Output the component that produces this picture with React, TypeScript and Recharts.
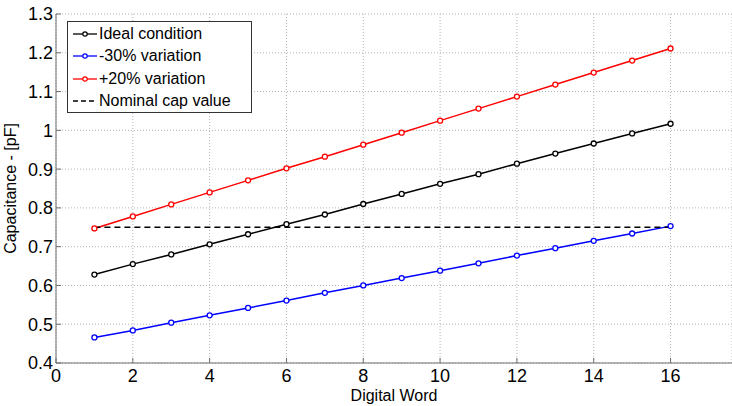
import React from 'react';
import { LineChart, Line, XAxis, YAxis, CartesianGrid, Legend, Label } from 'recharts';

const digitalWord = [1, 2, 3, 4, 5, 6, 7, 8, 9, 10, 11, 12, 13, 14, 15, 16];
const idealCap = [0.628, 0.655, 0.68, 0.706, 0.732, 0.758, 0.783, 0.81, 0.836, 0.862, 0.887, 0.914, 0.94, 0.966, 0.992, 1.017];
const minus30Cap = [0.466, 0.484, 0.504, 0.523, 0.542, 0.561, 0.581, 0.6, 0.619, 0.638, 0.657, 0.677, 0.696, 0.715, 0.734, 0.753];
const plus20Cap = [0.747, 0.778, 0.809, 0.84, 0.871, 0.902, 0.932, 0.963, 0.994, 1.025, 1.056, 1.087, 1.118, 1.149, 1.18, 1.211];
const nominalCap = [0.75, 0.75, 0.75, 0.75, 0.75, 0.75, 0.75, 0.75, 0.75, 0.75, 0.75, 0.75, 0.75, 0.75, 0.75, 0.75];

const xTicks = [0, 2, 4, 6, 8, 10, 12, 14, 16];
const yTicks = [0.4, 0.5, 0.6, 0.7, 0.8, 0.9, 1, 1.1, 1.2, 1.3];

const seriesNames = ['Ideal condition', '-30% variation', '+20% variation', 'Nominal cap value'];
const seriesKeys = ['ideal', 'minus30', 'plus20', 'nominal'];
const seriesColors = ['#000000', '#0000ff', '#ff0000', '#000000'];

const data = digitalWord.map((x, i) => ({
  x,
  ideal: idealCap[i],
  minus30: minus30Cap[i],
  plus20: plus20Cap[i],
  nominal: nominalCap[i],
}));

const FONT = "'Liberation Sans', Arial, sans-serif";
const AXIS_COLOR = '#6e6e6e';

const LegendBox = () => (
  <div
    style={{
      width: 185,
      height: 92,
      border: '1px solid #333',
      background: '#fff',
      boxSizing: 'border-box',
      fontFamily: FONT,
      fontSize: 16,
      color: '#000',
      paddingTop: 1,
    }}
  >
    {seriesNames.map((name, i) => (
      <div key={name} style={{ display: 'flex', alignItems: 'center', height: 22.3 }}>
        <svg width={31} height={12} style={{ flex: 'none' }}>
          {i < 3 ? (
            <>
              <line x1={5} y1={6} x2={29} y2={6} stroke={seriesColors[i]} strokeWidth={1.3} />
              <circle cx={17} cy={6} r={2.2} fill="#fff" stroke={seriesColors[i]} strokeWidth={1.2} />
            </>
          ) : (
            <line x1={5} y1={6} x2={29} y2={6} stroke="#000" strokeWidth={1.3} strokeDasharray="5 3" />
          )}
        </svg>
        <span style={{ whiteSpace: 'nowrap', lineHeight: '18px' }}>{name}</span>
      </div>
    ))}
  </div>
);

export default function App() {
  return (
    <div style={{ position: 'absolute', left: 0, top: 0, width: 732, height: 406, background: '#fff' }}>
      <LineChart
        width={732}
        height={406}
        data={data}
        margin={{ top: 14, right: 0, bottom: 0, left: 0 }}
        style={{ fontFamily: FONT }}
      >
        <CartesianGrid stroke="#b4b4b4" strokeDasharray="1 2" />
        <XAxis
          dataKey="x"
          type="number"
          domain={[0, 17.6]}
          ticks={xTicks}
          allowDataOverflow
          height={43}
          stroke={AXIS_COLOR}
          tickSize={-5}
          tickMargin={11}
          tick={{ fill: '#000', fontSize: 18, fontFamily: FONT }}
          tickLine={{ stroke: AXIS_COLOR }}
        >
          <Label
            content={({ viewBox }: any) => (
              <text
                x={viewBox.x + viewBox.width / 2}
                y={401}
                textAnchor="middle"
                fontSize={16}
                fontFamily={FONT}
                fill="#000"
              >
                Digital Word
              </text>
            )}
          />
        </XAxis>
        <XAxis
          xAxisId="top"
          dataKey="x"
          type="number"
          orientation="top"
          domain={[0, 17.6]}
          ticks={xTicks}
          allowDataOverflow
          height={0}
          tick={false}
          stroke={AXIS_COLOR}
          tickSize={-5}
          tickLine={{ stroke: AXIS_COLOR }}
        />
        <YAxis
          type="number"
          domain={[0.4, 1.3]}
          ticks={yTicks}
          allowDataOverflow
          width={56}
          stroke={AXIS_COLOR}
          tickSize={-5}
          tickMargin={8}
          tick={{ fill: '#000', fontSize: 18, fontFamily: FONT }}
          tickLine={{ stroke: AXIS_COLOR }}
          tickFormatter={(v: number) => String(v)}
        >
          <Label
            content={({ viewBox }: any) => {
              const cy = viewBox.y + viewBox.height / 2;
              return (
                <text
                  x={16}
                  y={cy}
                  transform={`rotate(-90, 16, ${cy})`}
                  textAnchor="middle"
                  fontSize={16}
                  fontFamily={FONT}
                  fill="#000"
                >
                  Capacitance - [pF]
                </text>
              );
            }}
          />
        </YAxis>
        <Legend
          layout="vertical"
          align="center"
          verticalAlign="middle"
          wrapperStyle={{ position: 'absolute', left: 67, top: 21, width: 185, height: 92 }}
          content={() => <LegendBox />}
        />
        {seriesKeys.slice(0, 3).map((k, i) => (
          <Line
            key={k}
            dataKey={k}
            name={seriesNames[i]}
            stroke={seriesColors[i]}
            strokeWidth={1.5}
            dot={{ r: 2.5, fill: '#fff', stroke: seriesColors[i], strokeWidth: 1.3 }}
            activeDot={false}
            isAnimationActive={false}
          />
        ))}
        <Line
          dataKey="nominal"
          name={seriesNames[3]}
          stroke="#000"
          strokeWidth={1.5}
          strokeDasharray="6 4"
          dot={false}
          activeDot={false}
          isAnimationActive={false}
        />
      </LineChart>
    </div>
  );
}
